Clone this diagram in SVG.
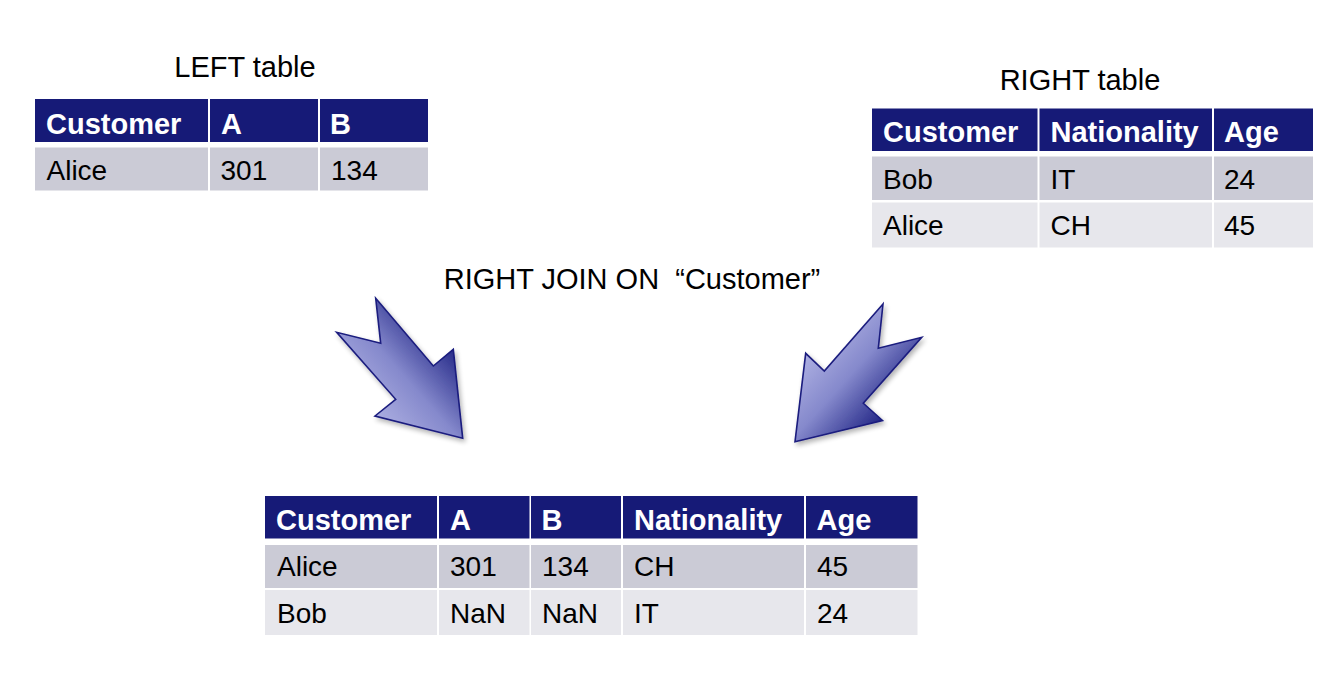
<svg xmlns="http://www.w3.org/2000/svg" width="1338" height="675" viewBox="0 0 1338 675">
<style>
.title{font-family:"Liberation Sans",Arial,sans-serif;font-size:29px;fill:#000;text-anchor:middle;white-space:pre;}
.h{fill:#161a77;}
.r1{fill:#cbcbd6;}
.r2{fill:#e7e7ec;}
.ht{font-family:"Liberation Sans",Arial,sans-serif;font-size:29px;font-weight:bold;fill:#fff;}
.dt{font-family:"Liberation Sans",Arial,sans-serif;font-size:28px;fill:#000;}
.arrow{stroke:#1a1c7e;stroke-width:1.6;stroke-linejoin:miter;filter:url(#sh);}
</style>
<defs>
<linearGradient id="gL" gradientUnits="userSpaceOnUse" x1="372" y1="418" x2="458" y2="342">
<stop offset="0" stop-color="#aeb0e2"/>
<stop offset="0.45" stop-color="#8589cc"/>
<stop offset="1" stop-color="#1a1e80"/>
</linearGradient>
<linearGradient id="gR" gradientUnits="userSpaceOnUse" x1="806" y1="352" x2="886" y2="424">
<stop offset="0" stop-color="#aeb0e2"/>
<stop offset="0.45" stop-color="#8589cc"/>
<stop offset="1" stop-color="#1a1e80"/>
</linearGradient>
<filter id="sh" x="-20%" y="-20%" width="140%" height="140%">
<feGaussianBlur in="SourceAlpha" stdDeviation="2.5"/>
<feOffset dx="2" dy="3" result="b"/>
<feComponentTransfer><feFuncA type="linear" slope="0.3"/></feComponentTransfer>
<feMerge><feMergeNode/><feMergeNode in="SourceGraphic"/></feMerge>
</filter>
</defs>
<rect width="1338" height="675" fill="#fff"/>

<text class="title" x="245" y="77">LEFT table</text>
<text class="title" x="1080" y="90">RIGHT table</text>
<text class="title" x="632" y="289">RIGHT JOIN ON  “Customer”</text>

<g id="left-table">
<rect class="h" x="35" y="99" width="173" height="43"/>
<rect class="h" x="210" y="99" width="108" height="43"/>
<rect class="h" x="320" y="99" width="108" height="43"/>
<rect class="r1" x="35" y="147.5" width="173" height="43"/>
<rect class="r1" x="210" y="147.5" width="108" height="43"/>
<rect class="r1" x="320" y="147.5" width="108" height="43"/>
<text class="ht" x="46" y="133.5">Customer</text>
<text class="ht" x="221" y="133.5">A</text>
<text class="ht" x="330" y="133.5">B</text>
<text class="dt" x="46.5" y="180">Alice</text>
<text class="dt" x="220.5" y="180">301</text>
<text class="dt" x="331" y="180">134</text>
</g>

<g id="right-table">
<rect class="h" x="872" y="108.5" width="165.5" height="42.5"/>
<rect class="h" x="1039.5" y="108.5" width="172.5" height="42.5"/>
<rect class="h" x="1214" y="108.5" width="99" height="42.5"/>
<rect class="r1" x="872" y="156.5" width="165.5" height="43.5"/>
<rect class="r1" x="1039.5" y="156.5" width="172.5" height="43.5"/>
<rect class="r1" x="1214" y="156.5" width="99" height="43.5"/>
<rect class="r2" x="872" y="202.5" width="165.5" height="45"/>
<rect class="r2" x="1039.5" y="202.5" width="172.5" height="45"/>
<rect class="r2" x="1214" y="202.5" width="99" height="45"/>
<text class="ht" x="883" y="142">Customer</text>
<text class="ht" x="1050.5" y="142">Nationality</text>
<text class="ht" x="1224" y="142">Age</text>
<text class="dt" x="883" y="188.5">Bob</text>
<text class="dt" x="1050.5" y="188.5">IT</text>
<text class="dt" x="1224" y="188.5">24</text>
<text class="dt" x="883" y="235">Alice</text>
<text class="dt" x="1050.5" y="235">CH</text>
<text class="dt" x="1224" y="235">45</text>
</g>

<g id="result-table">
<rect class="h" x="265" y="496" width="172" height="42.5"/>
<rect class="h" x="439" y="496" width="90.5" height="42.5"/>
<rect class="h" x="531" y="496" width="90" height="42.5"/>
<rect class="h" x="623" y="496" width="181" height="42.5"/>
<rect class="h" x="806" y="496" width="111.5" height="42.5"/>
<rect class="r1" x="265" y="545" width="172" height="43"/>
<rect class="r1" x="439" y="545" width="90.5" height="43"/>
<rect class="r1" x="531" y="545" width="90" height="43"/>
<rect class="r1" x="623" y="545" width="181" height="43"/>
<rect class="r1" x="806" y="545" width="111.5" height="43"/>
<rect class="r2" x="265" y="590" width="172" height="45"/>
<rect class="r2" x="439" y="590" width="90.5" height="45"/>
<rect class="r2" x="531" y="590" width="90" height="45"/>
<rect class="r2" x="623" y="590" width="181" height="45"/>
<rect class="r2" x="806" y="590" width="111.5" height="45"/>
<text class="ht" x="276" y="529.5">Customer</text>
<text class="ht" x="450" y="529.5">A</text>
<text class="ht" x="541.5" y="529.5">B</text>
<text class="ht" x="634" y="529.5">Nationality</text>
<text class="ht" x="816.5" y="529.5">Age</text>
<text class="dt" x="277" y="576">Alice</text>
<text class="dt" x="450" y="576">301</text>
<text class="dt" x="542" y="576">134</text>
<text class="dt" x="634" y="576">CH</text>
<text class="dt" x="817" y="576">45</text>
<text class="dt" x="277" y="623">Bob</text>
<text class="dt" x="450" y="623">NaN</text>
<text class="dt" x="542" y="623">NaN</text>
<text class="dt" x="634" y="623">IT</text>
<text class="dt" x="817" y="623">24</text>
</g>

<g id="connectors">
<polygon id="arrow-left" class="arrow" fill="url(#gL)" points="375.7,298.3 433.3,366 453.3,349.3 462.7,438.3 375,416 395.7,399.3 336.7,332.3 380.7,343.3"/>
<polygon id="arrow-right" class="arrow" fill="url(#gR)" points="883,304 824.3,371 805.7,353.3 795,441.7 882.5,420.5 863.3,403.3 921.7,337.3 878.3,348.3"/>
</g>
</svg>
